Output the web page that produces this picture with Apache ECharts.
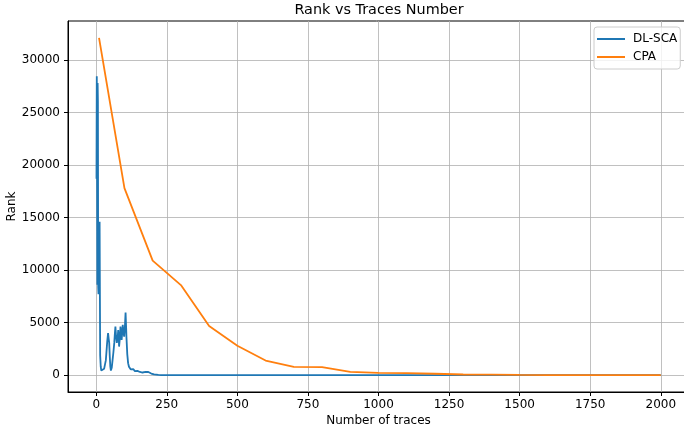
<!DOCTYPE html>
<html>
<head>
<meta charset="utf-8">
<script src="https://cdn.jsdelivr.net/npm/echarts@6/dist/echarts.min.js"></script>
<style>
html,body{margin:0;padding:0;background:#fff;}
#c{width:684px;height:432px;}
</style>
</head>
<body>
<div id="c"></div>
<script>
// ---- data ----
var xTicks = [0, 250, 500, 750, 1000, 1250, 1500, 1750, 2000];
var yTicks = [0, 5000, 10000, 15000, 20000, 25000, 30000];

var dlscaX = [1,2,3,4,5,6,7,8,9,10,11,12,13,14,16,18,20,22,25,28,31,34,36,39,42,44,46,48,50,52,55,58,61,64,66,68,70,73,76,78,80,81,84,86,88,90,92,94,96,99,102,104,106,107,110,113,116,119,122,125,128,131,134,137,140,143,146,149,152,155,158,161,164,167,170,172,175,178,180,183,186,190,195,200,205,210,220,230,250,500,750,1000,1250,1500,1750,2000];
var dlscaY = [18700,28450,20000,8600,27800,26000,8400,7700,12000,13700,9000,14600,8000,1900,800,440,500,380,400,600,700,1400,2100,3200,4000,3500,3070,1800,800,440,700,1450,2200,3070,3900,4620,3800,3070,3600,4300,3500,2720,3600,4620,4000,3350,4000,4780,4200,3670,4800,5950,4500,3670,2000,1140,800,660,550,500,550,580,450,380,450,500,400,300,250,300,280,300,250,220,260,280,300,350,400,320,250,200,150,120,80,50,20,10,0,0,0,0,0,0,0,0];

var cpaX = [10,100,200,300,400,500,600,700,800,900,1000,1100,1200,1300,1400,1500,1600,1700,1800,1900,2000];
var cpaY = [32100,17800,10900,8570,4670,2800,1390,790,760,310,210,190,130,60,40,20,10,5,3,2,1];

function pairs(xs, ys){ return xs.map(function(x,i){ return [x, ys[i]]; }); }
function plain(v){ return String(v); }

var FONT = 'DejaVu Sans';
var chart = echarts.init(document.getElementById('c'), null, {renderer:'canvas'});
chart.setOption({
  animation: false,
  backgroundColor: '#fff',
  textStyle: {fontFamily: FONT},
  title: {
    text: 'Rank vs Traces Number',
    left: 379, top: 3, textAlign: 'center', padding: 0,
    textStyle: {fontFamily: FONT, fontSize: 14.4, fontWeight: 'normal', color: '#000'}
  },
  legend: {
    orient: 'vertical', left: 594, top: 27,
    padding: [5, 3, 5, 3], itemGap: 4,
    itemWidth: 28, itemHeight: 2, icon: 'rect',
    borderColor: '#cccccc', borderWidth: 1, borderRadius: 3,
    backgroundColor: 'rgba(255,255,255,0.8)',
    textStyle: {fontFamily: FONT, fontSize: 12, color: '#000', lineHeight: 14, padding: [0,0,0,3]},
    data: ['DL-SCA', 'CPA']
  },
  grid: {
    left: 68, right: -5, top: 21, bottom: 40,
    containLabel: false, outerBoundsMode: 'none',
    show: true, borderColor: '#000', borderWidth: 1, backgroundColor: 'transparent'
  },
  xAxis: {
    type: 'value', min: -99.95, max: 2099.95,
    name: 'Number of traces', nameLocation: 'middle', nameGap: 23, nameMoveOverlap: false,
    nameTextStyle: {fontFamily: FONT, fontSize: 12, color: '#000'},
    axisLine: {show: true, onZero: false, lineStyle: {color: '#000', width: 1}},
    axisTick: {show: true, length: 4, lineStyle: {color: '#000', width: 1}, customValues: xTicks},
    axisLabel: {fontFamily: FONT, fontSize: 12, color: '#000', margin: 7, customValues: xTicks, formatter: plain},
    splitLine: {show: true, lineStyle: {color: '#b0b0b0', width: 0.8}}
  },
  yAxis: {
    type: 'value', min: -1605, max: 33705,
    name: 'Rank', nameLocation: 'middle', nameGap: 50, nameMoveOverlap: false,
    nameTextStyle: {fontFamily: FONT, fontSize: 12, color: '#000'},
    axisLine: {show: true, onZero: false, lineStyle: {color: '#000', width: 1}},
    axisTick: {show: true, length: 4, lineStyle: {color: '#000', width: 1}, customValues: yTicks},
    axisLabel: {fontFamily: FONT, fontSize: 12, color: '#000', margin: 8, customValues: yTicks, formatter: plain},
    splitLine: {show: true, lineStyle: {color: '#b0b0b0', width: 0.8}}
  },
  series: [
    {name: 'DL-SCA', type: 'line', data: pairs(dlscaX, dlscaY), showSymbol: false, symbol: 'none',
     lineStyle: {color: '#1f77b4', width: 1.8}, itemStyle: {color: '#1f77b4'}},
    {name: 'CPA', type: 'line', data: pairs(cpaX, cpaY), showSymbol: false, symbol: 'none',
     lineStyle: {color: '#ff7f0e', width: 1.8}, itemStyle: {color: '#ff7f0e'}}
  ]
});
</script>
</body>
</html>
